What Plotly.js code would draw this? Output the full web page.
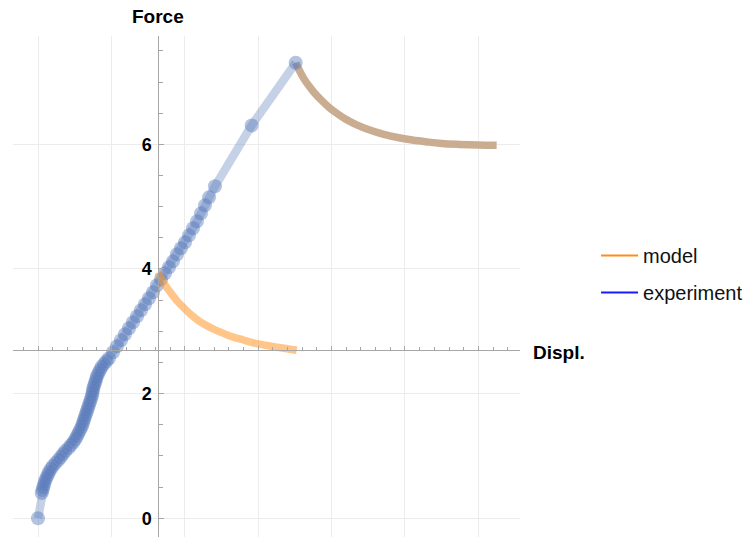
<!DOCTYPE html>
<html>
<head>
<meta charset="utf-8">
<script src="https://cdn.plot.ly/plotly-3.0.1.min.js"></script>
<style>html,body{margin:0;padding:0;background:#fff;}#chart{width:750px;height:539px;}</style>
</head>
<body>
<div id="chart"></div>
<script>
// Experiment data (loading branch)
const expX = [0, 0.0504, 0.0613, 0.0722, 0.0845, 0.0954, 0.1131, 0.1322, 0.1499, 0.1744, 0.2016, 0.2384, 0.2766, 0.3106, 0.3406, 0.3719, 0.4169, 0.4496, 0.4837, 0.5109, 0.5313, 0.5518, 0.5722, 0.5940, 0.6076, 0.6213, 0.6349, 0.6485, 0.6621, 0.6757, 0.6894, 0.7030, 0.7166, 0.7302, 0.7398, 0.7466, 0.7534, 0.7670, 0.7807, 0.7929, 0.8038, 0.8243, 0.8447, 0.8651, 0.8992, 0.932,
  0.967, 1.022, 1.076, 1.131, 1.185, 1.240, 1.294, 1.349, 1.403, 1.458, 1.512, 1.567, 1.621, 1.676, 1.730, 1.785, 1.839, 1.894, 1.948, 2.003, 2.057, 2.112, 2.166, 2.221, 2.275, 2.330, 2.411, 2.911, 3.511];
const expY = [0, 0.4045, 0.4526, 0.5008, 0.5490, 0.5971, 0.6453, 0.6934, 0.7416, 0.7897, 0.8379, 0.8860, 0.9342, 0.9823, 1.0305, 1.0787, 1.1268, 1.1750, 1.2231, 1.2713, 1.3194, 1.3676, 1.4157, 1.4639, 1.5120, 1.5602, 1.6083, 1.6565, 1.7047, 1.7528, 1.8010, 1.8491, 1.8973, 1.9454, 1.9936, 2.0417, 2.0899, 2.1380, 2.1862, 2.2343, 2.2825, 2.3307, 2.3788, 2.4270, 2.4751, 2.521,
  2.567, 2.663, 2.760, 2.856, 2.952, 3.048, 3.145, 3.241, 3.337, 3.433, 3.530, 3.626, 3.738, 3.834, 3.931, 4.027, 4.123, 4.236, 4.332, 4.428, 4.540, 4.653, 4.765, 4.893, 5.022, 5.150, 5.327, 6.305, 7.311];
// Model relaxation from the lower start
const modelX = [1.635, 1.70, 1.80, 1.90, 2.00, 2.10, 2.20, 2.35, 2.50, 2.65, 2.80, 2.95, 3.10, 3.25, 3.40, 3.525];
const modelY = [3.947, 3.80, 3.63, 3.48, 3.36, 3.25, 3.16, 3.06, 2.98, 2.91, 2.86, 2.81, 2.775, 2.745, 2.72, 2.695];
// Relaxation from the peak (model and experiment overlapping)
const relaxX = [3.511, 3.56, 3.62, 3.69, 3.77, 3.86, 3.96, 4.07, 4.20, 4.35, 4.50, 4.70, 4.90, 5.10, 5.30, 5.50, 5.75, 6.00, 6.249];
const relaxY = [7.311, 7.19, 7.06, 6.94, 6.82, 6.71, 6.60, 6.50, 6.40, 6.31, 6.24, 6.165, 6.11, 6.07, 6.04, 6.015, 6.00, 5.99, 5.985];
const legendNames = ['model', 'experiment'];

const FONT = 'Liberation Sans, Arial, Helvetica, sans-serif';
const AX = '#a6a6a6';

const traces = [
  {x: relaxX, y: relaxY, mode: 'lines', line: {color: '#caad91', width: 7.5, shape: 'spline', smoothing: 1}, showlegend: false},
  {x: expX, y: expY, mode: 'lines+markers', line: {color: 'rgba(95,130,190,0.37)', width: 8.5},
   marker: {size: 14, color: 'rgba(88,122,186,0.45)', line: {width: 0}}, showlegend: false},
  {x: modelX, y: modelY, mode: 'lines', line: {color: 'rgba(255,150,40,0.55)', width: 7.5, shape: 'spline', smoothing: 1}, showlegend: false},
  {x: [null], y: [null], mode: 'lines', name: legendNames[0], legendgroup: 'a', line: {color: '#ff8c1a', width: 2}},
  {x: [null], y: [null], mode: 'lines', name: legendNames[1], legendgroup: 'b', line: {color: '#1a1aff', width: 2}}
];

const layout = {
  width: 750, height: 539,
  margin: {l: 13, r: 230, t: 36, b: 2},
  paper_bgcolor: '#fff', plot_bgcolor: '#fff',
  font: {family: FONT, color: '#000'},
  xaxis: {
    range: [-0.3406, 6.567], tick0: 0, dtick: 1,
    showgrid: true, gridcolor: '#ececec', gridwidth: 1, zeroline: false,
    ticks: 'inside', ticklen: 4, tickcolor: AX, tickwidth: 1,
    showticklabels: false, showline: true, linecolor: AX, linewidth: 1,
    anchor: 'free', position: 0.3733,
    minor: {dtick: 0.2, tick0: 0, ticks: 'inside', ticklen: 2.5, tickcolor: AX, showgrid: false}
  },
  yaxis: {
    range: [-0.302, 7.740], tick0: 0, dtick: 2,
    showgrid: true, gridcolor: '#ececec', gridwidth: 1, zeroline: false,
    ticks: 'inside', ticklen: 5, tickcolor: AX, tickwidth: 1,
    showline: true, linecolor: AX, linewidth: 1,
    anchor: 'free', position: 0.2866, ticklabelstandoff: 3,
    tickfont: {family: FONT, size: 18, color: '#000', weight: 'bold'},
    minor: {dtick: 0.5, tick0: 0, ticks: 'inside', ticklen: 4, tickcolor: AX, showgrid: false}
  },
  showlegend: true,
  legend: {x: 1.15, y: 0.601, xanchor: 'left', yanchor: 'top', font: {family: FONT, size: 20, color: '#111'},
           tracegroupgap: 8, itemwidth: 37, bgcolor: 'rgba(0,0,0,0)'},
  annotations: [
    {text: '<b>Force</b>', xref: 'paper', yref: 'paper', x: 0.2866, y: 1.038, xanchor: 'center', yanchor: 'middle',
     showarrow: false, font: {family: FONT, size: 19, color: '#000'}},
    {text: '<b>Displ.</b>', xref: 'paper', yref: 'paper', x: 1.0215, y: 0.369, xanchor: 'left', yanchor: 'middle',
     showarrow: false, font: {family: FONT, size: 19, color: '#000'}}
  ]
};

Plotly.newPlot('chart', traces, layout, {displayModeBar: false, staticPlot: true});
</script>
</body>
</html>
